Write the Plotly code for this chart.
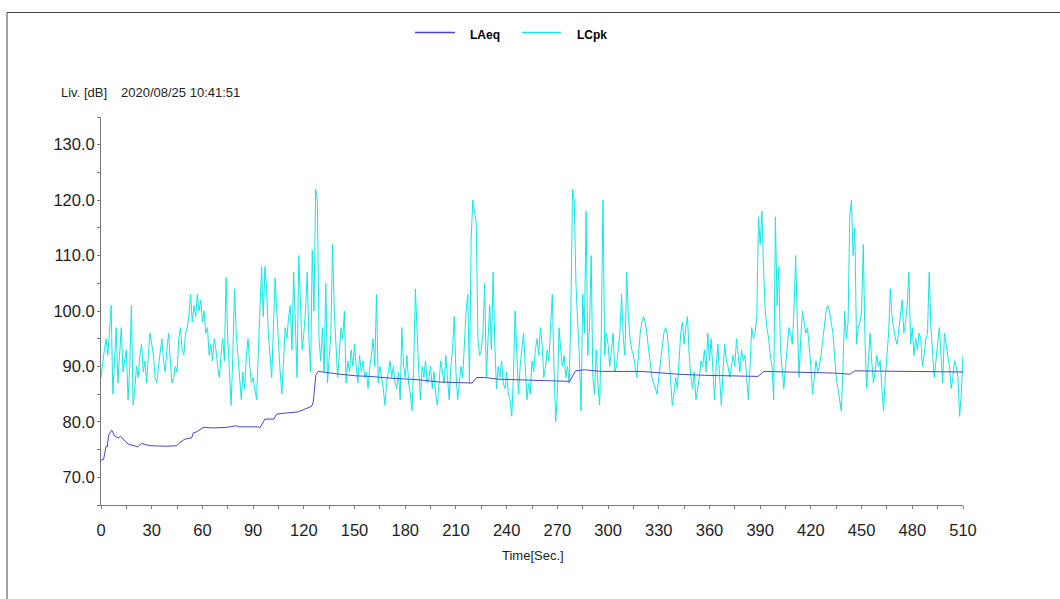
import plotly.graph_objects as go

# LAeq: running equivalent level, vertices (seconds, dB)
laeq_time = [0, 1.5, 3, 3.7, 4.5, 6.3, 8.3, 10.2, 11.6, 16, 21.7, 24, 29, 38.8, 44.8,
             46.7, 49.7, 53.6, 54.6, 56.6, 60.5, 66.4, 74.3, 80, 82, 93, 94, 97,
             102.3, 103.9, 109.8, 116.7, 120.6, 124.6, 125.6, 127.1, 128.5, 135.4,
             141.3, 151, 159, 170.5, 187.7, 199.5, 219.6, 222.2, 227, 235, 266.5,
             277.3, 280.7, 286, 296, 319.7, 341.4, 357, 388.7, 392.2, 434, 443, 446,
             467.6, 510]
laeq_level = [73.1, 73.2, 75.6, 75.5, 77.6, 78.5, 77.4, 77.1, 77.4, 76.0, 75.5, 76.1,
              75.7, 75.6, 75.7, 76.3, 76.9, 77.1, 78.0, 78.2, 79.0, 78.9, 79.0, 79.3,
              79.1, 79.1, 78.9, 80.5, 80.5, 81.4, 81.6, 81.8, 82.3, 82.8, 83.6, 88.4,
              89.1, 88.8, 88.6, 88.3, 88.2, 87.9, 87.6, 87.2, 87.0, 88.0, 88.0, 87.7,
              87.4, 87.3, 89.2, 89.4, 89.1, 89.1, 88.6, 88.4, 88.2, 89.1, 88.8, 88.6,
              89.2, 89.1, 89.0]

# LCpk: C-weighted peak level, one value per second (0..510 s)
lcpk_level = [
    88, 91, 93, 95, 92, 96, 101, 85, 90, 97,        # 0
    87, 92, 97, 89, 91, 93, 84, 90, 101, 83,        # 10
    86, 90, 88, 92, 94, 89, 91, 87, 92, 96,         # 20
    94, 92, 88, 87, 90, 93, 95, 91, 89, 93,         # 30
    96, 91, 87, 88, 90, 89, 95, 97, 93, 92,         # 40
    96, 97, 99, 103, 98, 101, 99, 103, 100, 102,    # 50
    98, 100, 96, 97, 92, 94, 91, 95, 93, 90,        # 60
    88, 92, 95, 91, 106, 95, 88, 83, 92, 104,       # 70
    96, 92, 88, 84, 89, 86, 92, 95, 90, 87,         # 80
    88, 86, 84, 92, 100, 108, 99, 108, 104, 96,     # 90
    92, 88, 97, 106, 100, 94, 89, 85, 92, 97,       # 100
    95, 99, 101, 93, 107, 99, 88, 110, 100, 93,     # 110
    96, 100, 107, 95, 89, 111, 100, 122, 120, 95,   # 120
    91, 97, 89, 105, 87, 92, 96, 112, 100, 94,      # 130
    88, 92, 97, 95, 100, 87, 91, 89, 93, 90,        # 140
    94, 90, 87, 92, 89, 91, 88, 89, 86, 90,         # 150
    92, 95, 90, 103, 87, 90, 88, 86, 83, 87,        # 160
    89, 91, 88, 90, 87, 86, 89, 84, 97, 90,         # 170
    88, 92, 87, 85, 82, 90, 104, 95, 89, 84,        # 180
    90, 88, 91, 87, 88, 90, 86, 89, 85, 83,         # 190
    88, 91, 89, 87, 92, 88, 84, 90, 93, 99,         # 200
    89, 84, 87, 90, 88, 95, 100, 103, 87, 113,      # 210
    120, 118, 116, 95, 92, 93, 96, 105, 88, 95,     # 220
    101, 93, 107, 94, 86, 90, 88, 91, 87, 86,       # 230
    89, 85, 84, 81, 88, 100, 92, 85, 90, 93,        # 240
    96, 90, 84, 87, 85, 91, 89, 93, 95, 92,         # 250
    97, 94, 88, 90, 93, 91, 96, 103, 90, 80,        # 260
    85, 97, 93, 90, 92, 88, 90, 87, 100, 122,       # 270
    120, 105, 98, 92, 82, 103, 96, 118, 92, 97,     # 280
    110, 88, 85, 93, 87, 83, 96, 120, 92, 96,       # 290
    94, 90, 93, 96, 89, 90, 93, 96, 103, 95,        # 300
    92, 107, 99, 95, 93, 92, 90, 88, 92, 96,        # 310
    98, 99, 98, 96, 93, 90, 88, 87, 86, 85,         # 320
    88, 91, 94, 96, 97, 96, 92, 87, 83, 85,         # 330
    88, 86, 92, 96, 98, 94, 97, 99, 92, 88,         # 340
    86, 89, 84, 86, 88, 91, 90, 93, 89, 96,         # 350
    91, 95, 88, 84, 90, 94, 88, 83, 89, 94,         # 360
    91, 90, 88, 90, 92, 90, 95, 92, 89, 93,         # 370
    91, 92, 88, 84, 90, 97, 95, 96, 99, 117,        # 380
    112, 118, 108, 100, 97, 95, 92, 90, 84, 117,    # 390
    101, 108, 93, 90, 86, 90, 94, 97, 96, 94,       # 400
    100, 110, 98, 88, 95, 100, 98, 96, 97, 94,      # 410
    90, 85, 88, 91, 89, 90, 92, 95, 98, 100,        # 420
    101, 100, 98, 96, 92, 88, 86, 84, 82, 90,       # 430
    100, 95, 98, 117, 120, 110, 115, 94, 97, 98,    # 440
    100, 112, 95, 86, 92, 96, 91, 87, 89, 92,       # 450
    90, 91, 86, 82, 88, 93, 96, 104, 99, 97,        # 460
    95, 94, 97, 99, 102, 96, 98, 101, 107, 94,      # 470
    97, 92, 95, 93, 96, 95, 90, 92, 95, 96,         # 480
    107, 97, 92, 88, 91, 94, 97, 92, 87, 96,        # 490
    94, 92, 90, 86, 88, 91, 90, 88, 81, 85,         # 500
    92,                                             # 510
]
lcpk_time = list(range(len(lcpk_level)))

x_ticks = list(range(0, 511, 30))
y_ticks = [70, 80, 90, 100, 110, 120, 130]

LAEQ_COLOR = "#4a46cc"
LCPK_COLOR = "#14e6e6"
AXIS_COLOR = "#7a7a7a"
TEXT_COLOR = "#1e1e1e"
FONT = "Liberation Sans, Arial, sans-serif"

W, H = 1060, 599
L, R, T, B = 101, 97, 117, 94
PW, PH = W - L - R, H - T - B


def px(x):
    return (x - L) / PW


def py(y):
    return (H - B - y) / PH


fig = go.Figure()
fig.add_trace(go.Scatter(x=lcpk_time, y=lcpk_level, mode="lines", name="LCpk",
                         line=dict(color=LCPK_COLOR, width=1)))
fig.add_trace(go.Scatter(x=laeq_time, y=laeq_level, mode="lines", name="LAeq",
                         line=dict(color=LAEQ_COLOR, width=1)))

fig.update_layout(
    width=W, height=H,
    margin=dict(l=L, r=R, t=T, b=B, pad=0),
    paper_bgcolor="white", plot_bgcolor="white",
    showlegend=False,
    xaxis=dict(range=[0, 510], tickvals=x_ticks, ticktext=[str(v) for v in x_ticks],
               showgrid=False, zeroline=False, showline=True, linecolor=AXIS_COLOR,
               linewidth=1, ticks="outside", ticklen=3, tickcolor=AXIS_COLOR,
               tickfont=dict(family=FONT, size=16.5, color=TEXT_COLOR),
               minor=dict(dtick=15, tick0=0, ticks="outside", ticklen=3,
                          tickcolor=AXIS_COLOR),
               ticklabelstandoff=7),
    yaxis=dict(range=[65, 135], tickvals=y_ticks, ticktext=[f"{v:.1f}" for v in y_ticks],
               showgrid=False, zeroline=False, showline=True, linecolor=AXIS_COLOR,
               linewidth=1, ticks="outside", ticklen=3, tickcolor=AXIS_COLOR,
               tickfont=dict(family=FONT, size=16.5, color=TEXT_COLOR),
               minor=dict(dtick=5, tick0=0, ticks="outside", ticklen=3,
                          tickcolor=AXIS_COLOR),
               ticklabelstandoff=-1),
)

# outer frame
fig.add_shape(type="rect", xref="paper", yref="paper",
              x0=px(7), x1=px(1070), y0=py(610), y1=py(12.5),
              line=dict(color="#444444", width=1), fillcolor="rgba(0,0,0,0)")

# legend
legend_items = [("LAeq", LAEQ_COLOR, 415, 455, 468), ("LCpk", LCPK_COLOR, 522, 561, 575)]
for label, color, lx0, lx1, tx in legend_items:
    fig.add_shape(type="line", xref="paper", yref="paper",
                  x0=px(lx0), x1=px(lx1), y0=py(32.5), y1=py(32.5),
                  line=dict(color=color, width=1.5))
    fig.add_annotation(xref="paper", yref="paper", x=px(tx), y=py(35),
                       xanchor="left", yanchor="middle", showarrow=False,
                       text=label, font=dict(family=FONT, size=12, color="#000",
                                             weight="bold"))

# header texts
fig.add_annotation(xref="paper", yref="paper", x=px(59), y=py(92), xanchor="left",
                   yanchor="middle", showarrow=False, text="Liv. [dB]",
                   font=dict(family=FONT, size=13, color=TEXT_COLOR))
fig.add_annotation(xref="paper", yref="paper", x=px(119), y=py(92), xanchor="left",
                   yanchor="middle", showarrow=False, text="2020/08/25 10:41:51",
                   font=dict(family=FONT, size=13, color=TEXT_COLOR))

# x-axis title
fig.add_annotation(xref="paper", yref="paper", x=px(533), y=py(555), xanchor="center",
                   yanchor="middle", showarrow=False, text="Time[Sec.]",
                   font=dict(family=FONT, size=13, color=TEXT_COLOR))

fig.write_html("out.html")
